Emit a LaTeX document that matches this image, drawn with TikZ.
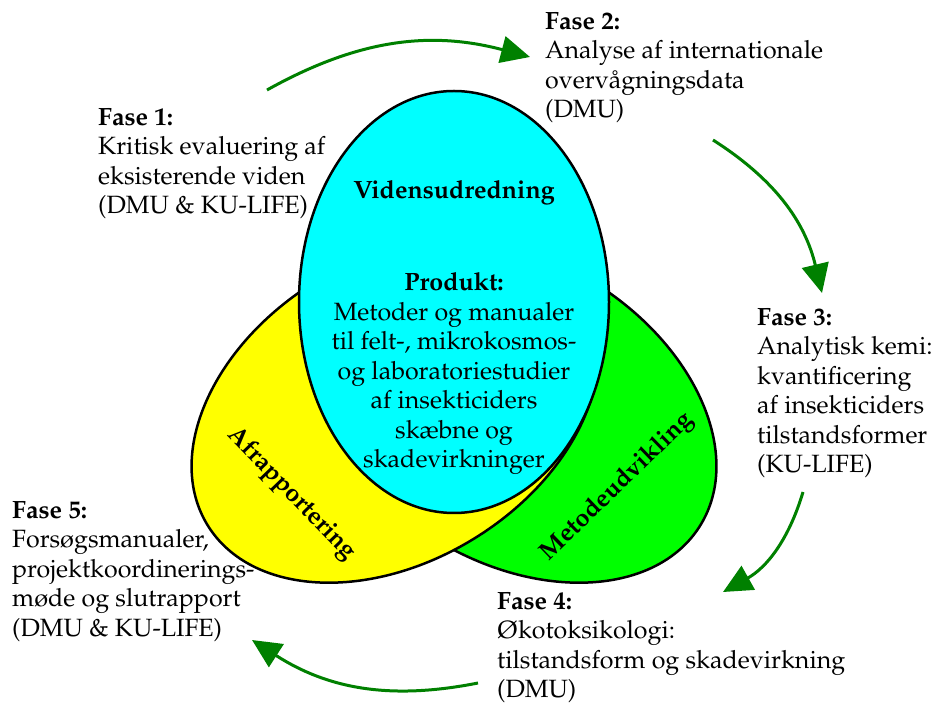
\documentclass[tikz,border=0pt]{standalone}
\usepackage[T1]{fontenc}
\usepackage{mathpazo}
\usetikzlibrary{arrows.meta}
\definecolor{lysgul}{RGB}{255,255,0}
\definecolor{lysgroen}{RGB}{0,255,0}
\definecolor{lyscyan}{RGB}{0,255,255}
\definecolor{pilgroen}{RGB}{0,128,0}

\begin{document}
\begin{tikzpicture}[x=1pt,y=1pt,
 txt/.style={inner sep=0pt,font=\fontsize{25}{29.5}\selectfont},
 fed/.style={txt,font=\fontsize{25}{29.5}\selectfont\bfseries},
 fase/.style={txt,align=left,anchor=north west},
 ring/.style={draw=black,line width=2.5pt},
 pil/.style={pilgroen,line width=3pt,-{Triangle[length=29pt,width=27pt]},bend left=22},
 ]
 \useasboundingbox (0,0) rectangle (934,704);

 % de tre ellipser
 \foreach \farve/\cx/\vinkel in {lysgroen/513/-31.6,lysgul/395/31.6} {
 	\draw[ring,fill=\farve,rotate around={\vinkel:(\cx,294)}] (\cx,294) ellipse (220pt and 151pt);
 }
 \draw[ring,fill=lyscyan] (454,402) ellipse (155pt and 211pt);

 \node[fed] (viden) at (454,511) {Vidensudredning};
 \node[txt,align=center,anchor=north] (produkt) at (454,431.5) {\textbf{Produkt:}\\Metoder og manualer\\til felt-, mikrokosmos-\\og laboratoriestudier\\af insekticiders\\sk\ae bne og\\skadevirkninger};
 \node[fed,rotate=-46] (afrap) at (291,210) {Afrapportering};
 \node[fed,rotate=44] (metode) at (617,217) {Metodeudvikling};

 %Faser
 \node[fase] (fase1) at (98,595.5) {\textbf{Fase 1:}\\Kritisk evaluering af\\eksisterende viden\\(DMU \& KU-LIFE)};
 \node[fase] (fase2) at (545,691.5) {\textbf{Fase 2:}\\Analyse af internationale\\overv\aa gningsdata\\(DMU)};
 \node[fase] (fase3) at (757,395.5) {\textbf{Fase 3:}\\Analytisk kemi:\\kvantificering\\af insekticiders\\tilstandsformer\\(KU-LIFE)};
 \node[fase] (fase4) at (497,111.5) {\textbf{Fase 4:}\\\O kotoksikologi:\\tilstandsform og skadevirkning\\(DMU)};
 \node[fase] (fase5) at (12,202.5) {\textbf{Fase 5:}\\Fors\o gsmanualer,\\projektkoordinerings-\\m\o de og slutrapport\\(DMU \& KU-LIFE)};

 %Pile
 \coordinate (p1a) at (267,614);  \coordinate (p1b) at (530,647);
 \coordinate (p2a) at (713,564);  \coordinate (p2b) at (822,411);
 \coordinate (p3a) at (803,212);  \coordinate (p3b) at (723,112);
 \coordinate (p4a) at (478,21);   \coordinate (p4b) at (252,64);
 \foreach \p in {1,2,3,4} {
 	\draw[pil] (p\p a) to (p\p b);
 }
\end{tikzpicture}
\end{document}
